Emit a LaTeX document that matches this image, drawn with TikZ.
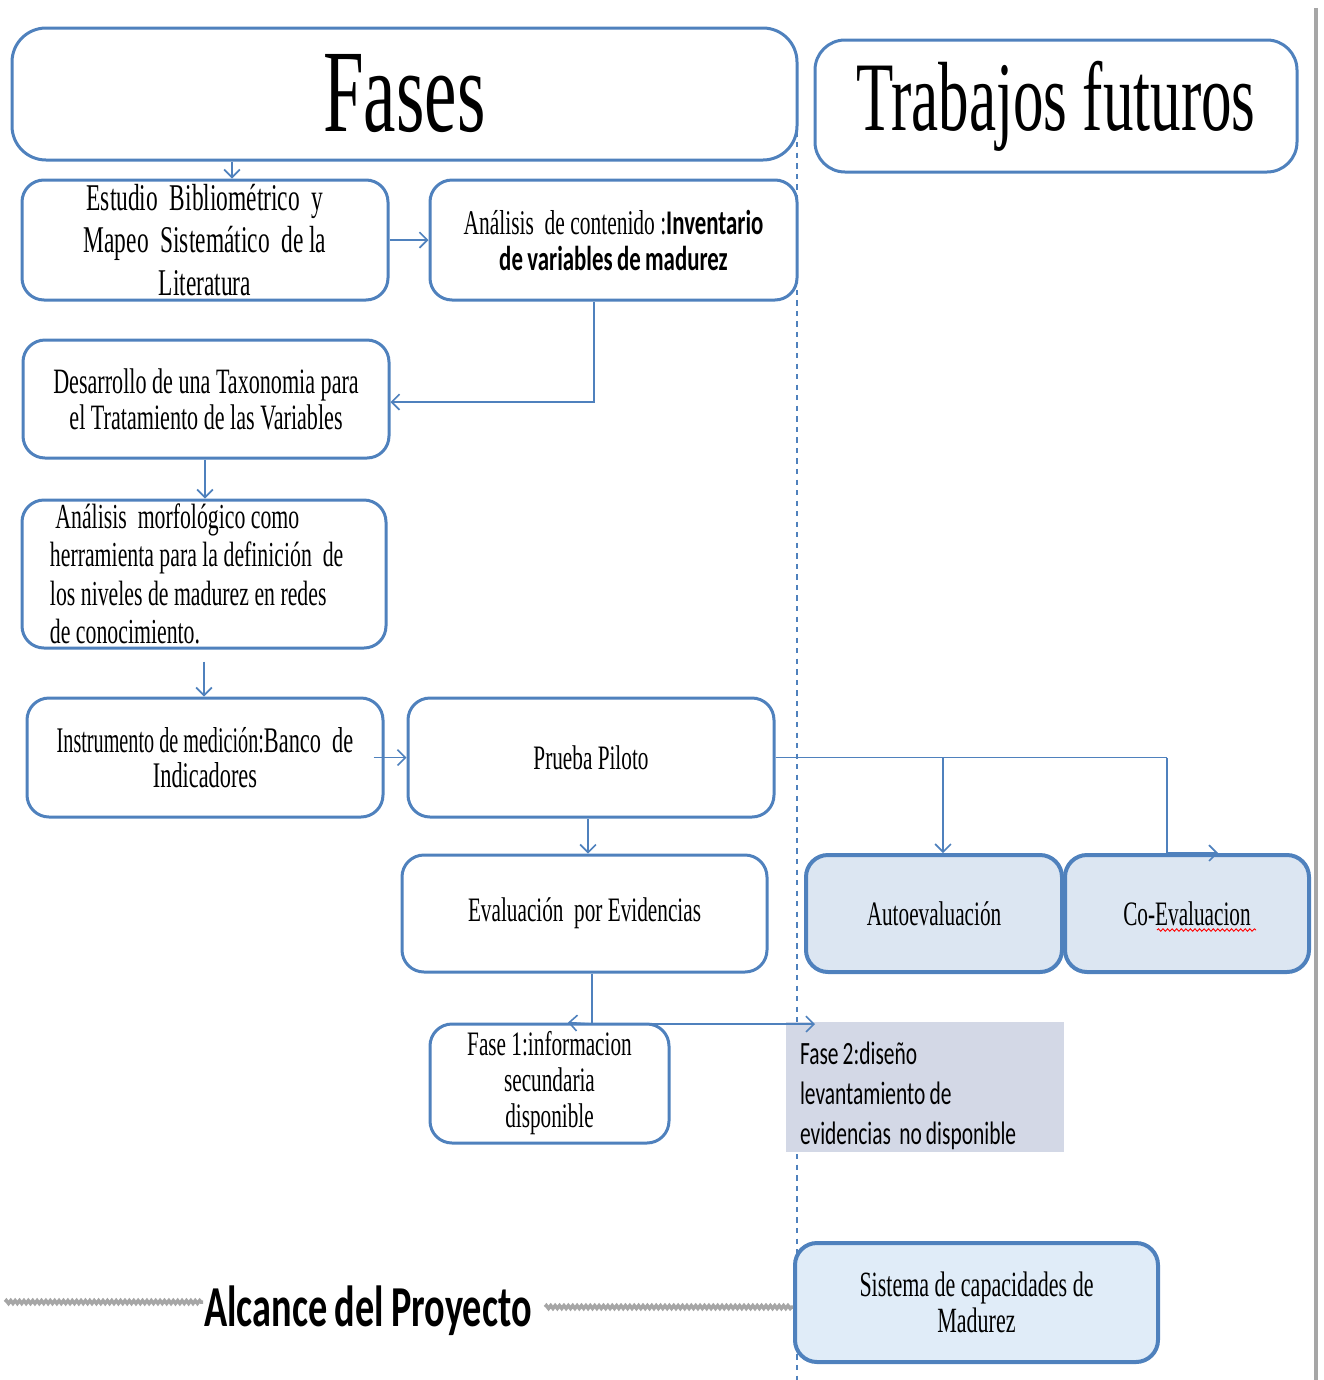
\documentclass[tikz,border=0pt]{standalone}
\usepackage{fontspec}
\setmainfont[FakeStretch=0.62]{Liberation Serif}
\newfontfamily\tightserif[FakeStretch=0.56]{Liberation Serif}
\newfontfamily\condsans[FakeStretch=0.66,WordSpace=0.85]{Carlito}
\usetikzlibrary{arrows.meta,calc,decorations.pathmorphing}
\newdimen\upx \upx=0.02cm
\definecolor{boxblue}{RGB}{79,129,189}
\definecolor{paleblue}{RGB}{220,230,242}
\definecolor{palerblue}{RGB}{224,236,248}
\definecolor{lavgray}{RGB}{211,216,230}
\tikzset{
  box/.style={draw=boxblue, line width=3\upx, rounded corners=22\upx, fill=white,
    align=center, inner sep=0pt, font={\fontsize{19.5}{23}\selectfont}},
  tintbox/.style={box, line width=4\upx, fill=paleblue},
  arr/.style={draw=boxblue, line width=1.6\upx, -{Straight Barb[length=4.5pt,width=9pt]}},
  link/.style={draw=boxblue, line width=1.6\upx},
  squiggle/.style={draw=gray!70, line width=2pt, decorate,
    decoration={snake, amplitude=0.8pt, segment length=2.5pt}}
}
\begin{document}
\begin{tikzpicture}[x=0.02cm, y=-0.02cm]
\useasboundingbox (0,0) rectangle (1323,1380);

% column divider and right margin rule
\draw[boxblue, line width=1.4\upx, dashed] (797,100) -- (797,1380);
\draw[gray!70, line width=4\upx] (1316,8) -- (1316,1380);

% headings
\node[box, rounded corners=34\upx, minimum width=785\upx, minimum height=132\upx,
  font={\fontsize{67}{72}\selectfont}] (fases) at (404.5,94) {Fases};
\node[box, rounded corners=30\upx, minimum width=482\upx, minimum height=132\upx,
  font={\fontsize{56}{62}\selectfont}] (futuros) at (1056,106) {Trabajos futuros};

% phase boxes
\node[box, minimum width=366\upx, minimum height=120\upx,
  font={\fontsize{21.5}{24}\selectfont}] (estudio) at (205,240)
  {Estudio\ \ Bibliométrico\ \ y\\Mapeo\ \ Sistemático\ \ de la\\Literatura};
\node[box, minimum width=367\upx, minimum height=120\upx,
  font={\fontsize{19.7}{20.5}\selectfont}] (analisis) at (613.5,240)
  {Análisis\ \ de contenido :{\condsans\bfseries Inventario}\\{\condsans\bfseries de variables de madurez}};
\node[box, minimum width=366\upx, minimum height=118\upx,
  font={\fontsize{20.3}{20.5}\selectfont}] (taxo) at (206,399)
  {Desarrollo de una Taxonomia para\\el Tratamiento de las Variables};
\node[box, minimum width=364\upx, minimum height=148\upx, text width=308\upx, align=flush left,
  inner ysep=-4\upx, font={\fontsize{20}{21.8}\selectfont}] (morfo) at (204,574)
  {\ Análisis\ \ morfológico como\\herramienta para la definición\ \ de\\los niveles de madurez en redes\\de conocimiento.};
\node[box, minimum width=356\upx, minimum height=119\upx,
  font={\fontsize{20.5}{20}\selectfont}] (instr) at (205,757.5)
  {{\tightserif Instrumento de medición:}Banco\ \ de\\Indicadores};
\node[box, minimum width=366\upx, minimum height=119\upx] (piloto) at (591,757.5) {Prueba Piloto};
\node[box, minimum width=365\upx, minimum height=117\upx] (evid) at (584.5,913.5) {Evaluación\ \ por Evidencias};
\node[tintbox, minimum width=256\upx, minimum height=117\upx] (auto) at (934,913.5) {Autoevaluación};
\node[tintbox, minimum width=244\upx, minimum height=117\upx] (coev) at (1187,913.5) {Co-Evaluacion};
\node[box, minimum width=239\upx, minimum height=119\upx,
  font={\fontsize{19.5}{20.5}\selectfont}] (fase1) at (549.5,1083.5)
  {Fase 1:informacion\\secundaria\\disponible};
\node[fill=lavgray, minimum width=278\upx, minimum height=130\upx, inner sep=0pt] (fase2) at (925,1087) {};
\node[inner sep=0pt, text width=250\upx, align=flush left,
  font={\condsans\fontsize{18.5}{22.8}\selectfont}] (fase2txt) at (925,1096)
  {Fase 2:diseño\\levantamiento de\\evidencias\ \ no disponible};
\node[tintbox, fill=palerblue, minimum width=363\upx, minimum height=119\upx,
  font={\fontsize{20.2}{20.5}\selectfont}] (sistema) at (976.5,1302.5)
  {Sistema de capacidades de\\Madurez};

% spelling mark under the second word
\draw[red, line width=0.5pt, decorate, decoration={snake, amplitude=0.7pt, segment length=2.6pt}]
  (1157,930) -- (1256,930);

% project scope label
\node[font={\condsans\bfseries\fontsize{33}{36}\selectfont}, inner sep=0pt] (alcance) at (368,1311) {Alcance del Proyecto};
\draw[squiggle] (5,1302) -- (203,1302);
\draw[squiggle] (545,1307) -- (sistema.west |- 0,1307);

% helper columns for connectors
\coordinate (ca) at (232,0);
\coordinate (cb) at (594,0);
\coordinate (cc) at (205,0);
\coordinate (cd) at (588,0);
\coordinate (ce) at (943,0);
\coordinate (cf) at (1167,0);
\coordinate (cg) at (1218,0);
\coordinate (ch) at (592,0);
\coordinate (ci) at (568,0);
\coordinate (cj) at (815,0);
\coordinate (junc) at (592,1024);

% connectors
\draw[arr] (fases.south -| ca) -- (estudio.north -| ca);
\draw[arr] (estudio.east) -- (analisis.west);
\draw[arr] (analisis.south -| cb) |- ([yshift=-3\upx]taxo.east);
\draw[arr] (taxo.south -| cc) -- (morfo.north -| cc);
\draw[arr] ($(morfo.south)+(0,12)$) -- (morfo.south |- instr.north);
\draw[arr] ([xshift=-11\upx]instr.east) -- (piloto.west);
\draw[link] (piloto.east) -- (piloto.east -| cf);
\draw[arr] (piloto.east -| ce) -- (auto.north -| ce);
\draw[arr] (piloto.east -| cf) -- (coev.north -| cf) -- (coev.north -| cg);
\draw[arr] (piloto.south -| cd) -- (evid.north -| cd);
\draw[link] (evid.south -| ch) -- (junc);
\draw[arr] (junc) -- (fase1.north -| ci);
\draw[arr] (junc) -- (junc -| cj);
\end{tikzpicture}
\end{document}
